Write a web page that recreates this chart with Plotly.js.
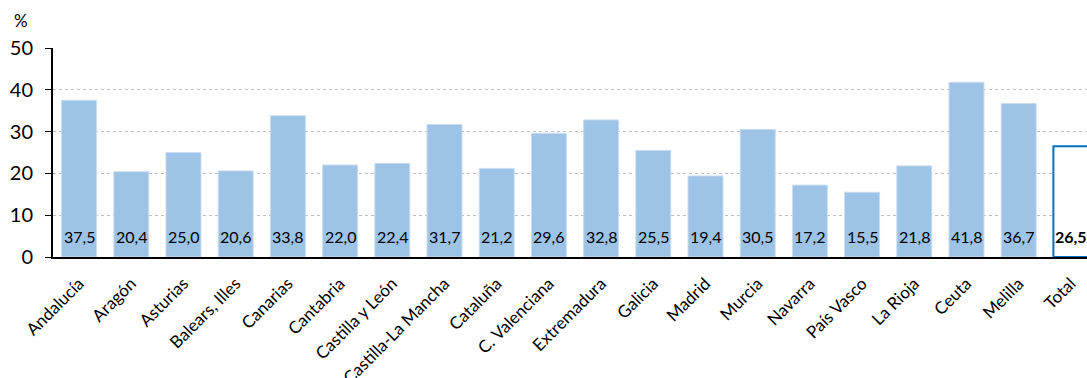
<!DOCTYPE html>
<html><head><meta charset="utf-8">
<script src="https://cdn.plot.ly/plotly-3.0.1.min.js"></script>
<style>html,body{margin:0;padding:0;overflow:hidden;background:#fff}</style>
</head><body><div id="chart"></div>
<script>
var categories = ["Andalucía","Aragón","Asturias","Balears, Illes","Canarias","Cantabria","Castilla y León","Castilla-La Mancha","Cataluña","C. Valenciana","Extremadura","Galicia","Madrid","Murcia","Navarra","País Vasco","La Rioja","Ceuta","Melilla","Total"];
var values = [37.5,20.4,25.0,20.6,33.8,22.0,22.4,31.7,21.2,29.6,32.8,25.5,19.4,30.5,17.2,15.5,21.8,41.8,36.7,26.5];
var yTicks = [0,10,20,30,40,50];

var fillColors = categories.map(function(c){ return c === "Total" ? "#FFFFFF" : "#9DC3E6"; });
var lineColors = categories.map(function(c){ return c === "Total" ? "#0070C0" : "#C9DDF0"; });
var lineWidths = categories.map(function(c){ return c === "Total" ? 2 : 1; });

var labelFont = "Lato, 'Liberation Sans', sans-serif";
var annotations = categories.map(function(c, i){
  return {
    x: c, y: 5, xref: "x", yref: "y", showarrow: false,
    text: c === "Total" ? "<b>" + values[i].toFixed(1).replace(".", ",") + "</b>" : values[i].toFixed(1).replace(".", ","),
    font: {family: labelFont, size: 16, color: "#000000"}
  };
});
annotations.push({
  xref: "paper", yref: "paper", x: -0.039, y: 1.13, xanchor: "left", yanchor: "middle",
  text: "%", showarrow: false, font: {family: labelFont, size: 17, color: "#000000"}
});

var trace = {
  type: "bar", x: categories, y: values,
  marker: {color: fillColors, line: {color: lineColors, width: lineWidths}},
  hoverinfo: "x+y"
};

var layout = {
  width: 1100, height: 378,
  margin: {l: 53, r: 3, t: 48, b: 121},
  paper_bgcolor: "#FFFFFF", plot_bgcolor: "#FFFFFF",
  bargap: 0.33,
  showlegend: false,
  font: {family: labelFont, color: "#000000"},
  xaxis: {
    type: "category", tickangle: -45,
    tickfont: {family: labelFont, size: 17, color: "#000000"},
    ticklabelstandoff: 8,
    showline: true, linecolor: "#000000", linewidth: 2,
    ticks: "", showgrid: false, zeroline: false, automargin: false
  },
  yaxis: {
    range: [0, 50], tickvals: yTicks,
    tickfont: {family: labelFont, size: 20, color: "#000000"},
    ticklabelstandoff: 8,
    showline: true, linecolor: "#000000", linewidth: 2,
    ticks: "outside", ticklen: 6, tickcolor: "#000000", tickwidth: 1,
    showgrid: true, gridcolor: "#BFBFBF", griddash: "dot", gridwidth: 1,
    zeroline: false, automargin: false
  },
  annotations: annotations
};

Plotly.newPlot("chart", [trace], layout, {displayModeBar: false, staticPlot: true});
</script>
</body></html>
